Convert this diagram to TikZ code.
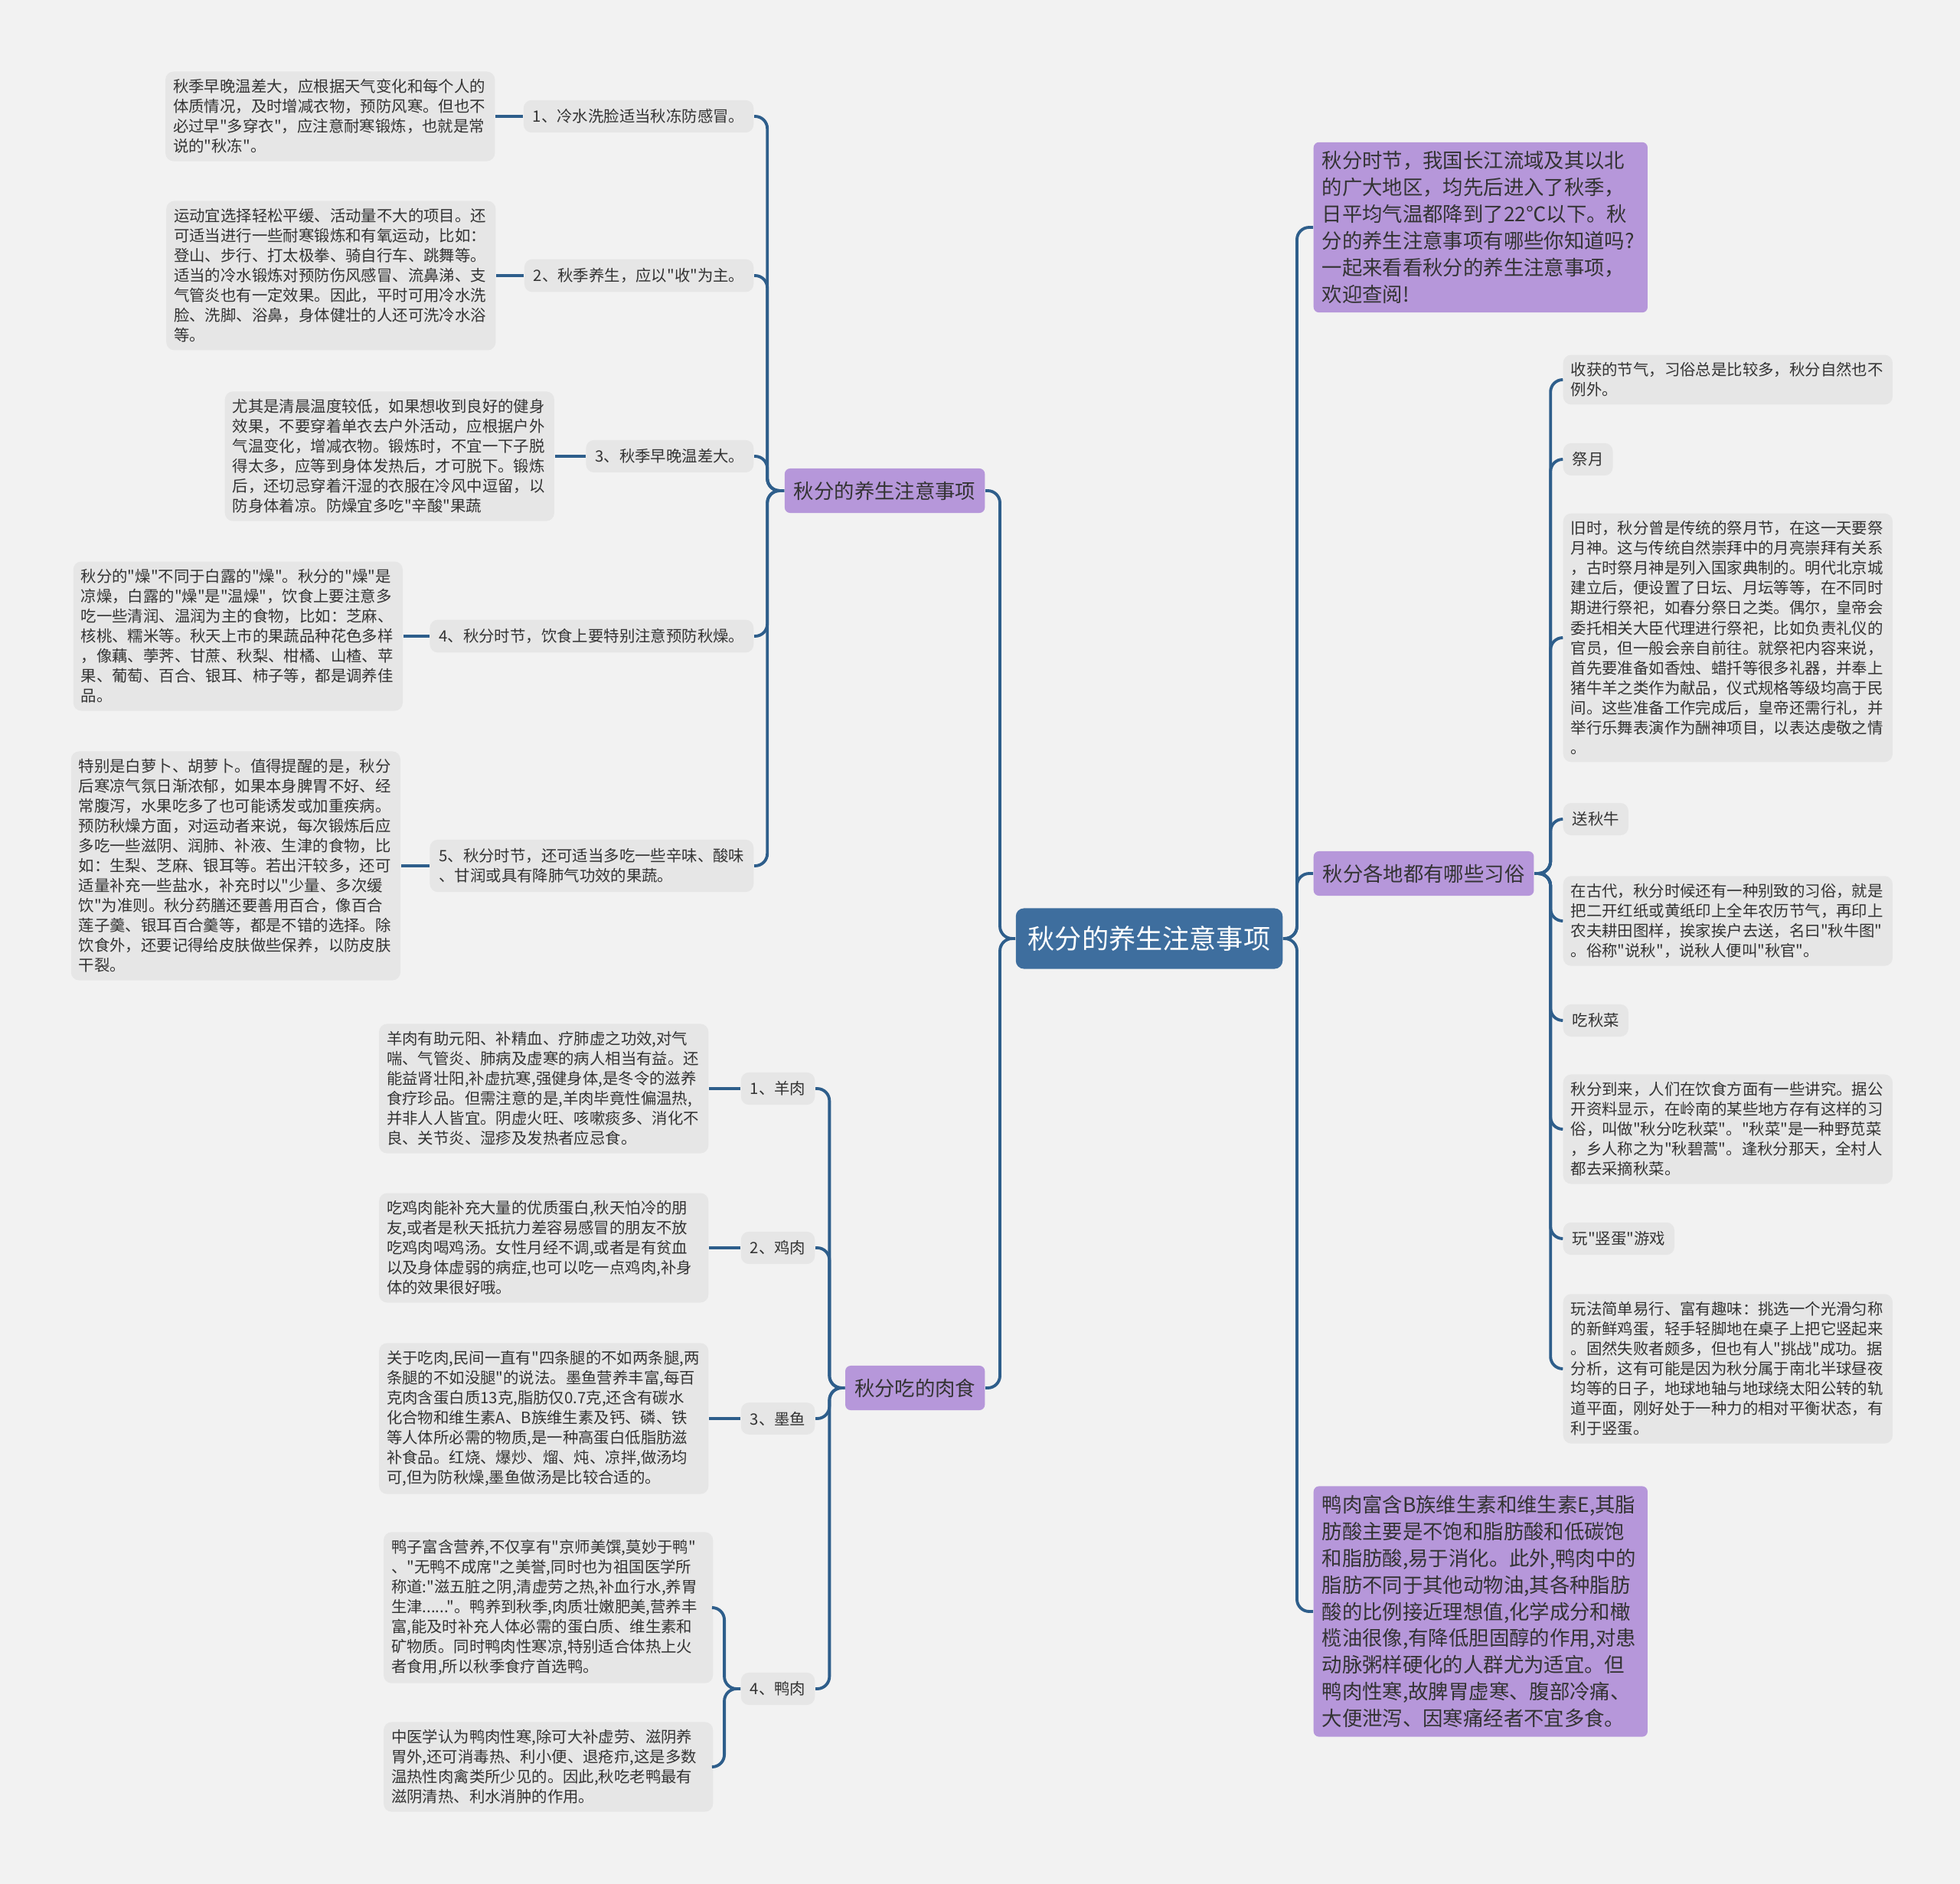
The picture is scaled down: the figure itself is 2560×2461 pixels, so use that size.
\documentclass[tikz,border=0pt]{standalone}
\usepackage{fontspec}
\setmainfont{Noto Sans CJK SC}[Ligatures=TeXOff]
\usetikzlibrary{positioning}
\definecolor{bgcol}{HTML}{F2F2F2}
\definecolor{notegray}{HTML}{E6E6E6}
\definecolor{topicpurple}{HTML}{B697DA}
\definecolor{rootblue}{HTML}{3E6E9E}
\definecolor{linkblue}{HTML}{2E5E8B}
\definecolor{ink}{HTML}{333333}
\begin{document}
\begin{tikzpicture}[x=0.01cm,y=-0.01cm,
  rootbox/.style={fill=rootblue,text=white,rounded corners=3pt,
    font=\fontsize{10}{12}\selectfont,inner xsep=0.16cm,minimum height=0.79cm},
  topicbox/.style={fill=topicpurple,text=ink,rounded corners=2pt,
    font=\fontsize{7.5}{9.9}\selectfont,inner xsep=0.12cm,minimum height=0.58cm},
  blurbbox/.style={topicbox,align=left,text width=4.14cm,inner xsep=0.11cm,inner ysep=0.12cm},
  notebox/.style={fill=notegray,text=ink,rounded corners=3pt,align=left,
    font=\fontsize{5.8}{7.4}\selectfont,text width=4.1cm,inner xsep=0.1cm,inner ysep=0.1cm},
  leafbox/.style={fill=notegray,text=ink,rounded corners=3pt,align=left,
    font=\fontsize{5.8}{7.4}\selectfont,inner xsep=0.12cm,minimum height=0.41cm},
  link/.style={draw=linkblue,line width=1.1pt,rounded corners=0.16cm}
]
\fill[bgcol] (0,0) rectangle (2560,2461);
\useasboundingbox (0,0) rectangle (2560,2461);

% centre and main branches
\node[rootbox] (root) at (1501,1226) {秋分的养生注意事项};
\node[topicbox,anchor=east] (care) at (1287,641) {秋分的养生注意事项};
\node[topicbox,anchor=east] (meat) at (1287,1813) {秋分吃的肉食};
\node[topicbox,anchor=west] (custom) at (1715,1141) {秋分各地都有哪些习俗};
\node[blurbbox,anchor=west] (intro) at (1715,297) {秋分时节，我国长江流域及其以北\\
  的广大地区，均先后进入了秋季，\\
  日平均气温都降到了22℃以下。秋\\
  分的养生注意事项有哪些你知道吗?\\
  一起来看看秋分的养生注意事项，\\
  欢迎查阅!};
\node[blurbbox,anchor=west] (duckfact) at (1715,2105) {鸭肉富含B族维生素和维生素E,其脂\\
  肪酸主要是不饱和脂肪酸和低碳饱\\
  和脂肪酸,易于消化。此外,鸭肉中的\\
  脂肪不同于其他动物油,其各种脂肪\\
  酸的比例接近理想值,化学成分和橄\\
  榄油很像,有降低胆固醇的作用,对患\\
  动脉粥样硬化的人群尤为适宜。但\\
  鸭肉性寒,故脾胃虚寒、腹部冷痛、\\
  大便泄泻、因寒痛经者不宜多食。};

% left: care items
\node[leafbox,anchor=east] (c1) at (985,152) {1、冷水洗脸适当秋冻防感冒。};
\node[leafbox,anchor=east] (c2) at (985,360) {2、秋季养生，应以"收"为主。};
\node[leafbox,anchor=east] (c3) at (985,596) {3、秋季早晚温差大。};
\node[leafbox,anchor=east] (c4) at (985,831) {4、秋分时节，饮食上要特别注意预防秋燥。};
\node[leafbox,anchor=east] (c5) at (985,1131) {5、秋分时节，还可适当多吃一些辛味、酸味\\
  、甘润或具有降肺气功效的果蔬。};
\node[notebox,left=0.36cm of c1] (d1) {秋季早晚温差大，应根据天气变化和每个人的\\
  体质情况，及时增减衣物，预防风寒。但也不\\
  必过早"多穿衣"，应注意耐寒锻炼，也就是常\\
  说的"秋冻"。};
\node[notebox,left=0.36cm of c2] (d2) {运动宜选择轻松平缓、活动量不大的项目。还\\
  可适当进行一些耐寒锻炼和有氧运动，比如：\\
  登山、步行、打太极拳、骑自行车、跳舞等。\\
  适当的冷水锻炼对预防伤风感冒、流鼻涕、支\\
  气管炎也有一定效果。因此，平时可用冷水洗\\
  脸、洗脚、浴鼻，身体健壮的人还可洗冷水浴\\
  等。};
\node[notebox,left=0.4cm of c3] (d3) {尤其是清晨温度较低，如果想收到良好的健身\\
  效果，不要穿着单衣去户外活动，应根据户外\\
  气温变化，增减衣物。锻炼时，不宜一下子脱\\
  得太多，应等到身体发热后，才可脱下。锻炼\\
  后，还切忌穿着汗湿的衣服在冷风中逗留，以\\
  防身体着凉。防燥宜多吃"辛酸"果蔬};
\node[notebox,left=0.34cm of c4] (d4) {秋分的"燥"不同于白露的"燥"。秋分的"燥"是\\
  凉燥，白露的"燥"是"温燥"，饮食上要注意多\\
  吃一些清润、温润为主的食物，比如：芝麻、\\
  核桃、糯米等。秋天上市的果蔬品种花色多样\\
  ，像藕、荸荠、甘蔗、秋梨、柑橘、山楂、苹\\
  果、葡萄、百合、银耳、柿子等，都是调养佳\\
  品。};
\node[notebox,left=0.37cm of c5] (d5) {特别是白萝卜、胡萝卜。值得提醒的是，秋分\\
  后寒凉气氛日渐浓郁，如果本身脾胃不好、经\\
  常腹泻，水果吃多了也可能诱发或加重疾病。\\
  预防秋燥方面，对运动者来说，每次锻炼后应\\
  多吃一些滋阴、润肺、补液、生津的食物，比\\
  如：生梨、芝麻、银耳等。若出汗较多，还可\\
  适量补充一些盐水，补充时以"少量、多次缓\\
  饮"为准则。秋分药膳还要善用百合，像百合\\
  莲子羹、银耳百合羹等，都是不错的选择。除\\
  饮食外，还要记得给皮肤做些保养，以防皮肤\\
  干裂。};

% left: meat items
\node[leafbox,anchor=east] (m1) at (1065,1422) {1、羊肉};
\node[leafbox,anchor=east] (m2) at (1065,1630) {2、鸡肉};
\node[leafbox,anchor=east] (m3) at (1065,1853) {3、墨鱼};
\node[leafbox,anchor=east] (m4) at (1065,2206) {4、鸭肉};
\node[notebox,left=0.41cm of m1] (lamb) {羊肉有助元阳、补精血、疗肺虚之功效,对气\\
  喘、气管炎、肺病及虚寒的病人相当有益。还\\
  能益肾壮阳,补虚抗寒,强健身体,是冬令的滋养\\
  食疗珍品。但需注意的是,羊肉毕竟性偏温热,\\
  并非人人皆宜。阴虚火旺、咳嗽痰多、消化不\\
  良、关节炎、湿疹及发热者应忌食。};
\node[notebox,left=0.41cm of m2] (chicken) {吃鸡肉能补充大量的优质蛋白,秋天怕冷的朋\\
  友,或者是秋天抵抗力差容易感冒的朋友不放\\
  吃鸡肉喝鸡汤。女性月经不调,或者是有贫血\\
  以及身体虚弱的病症,也可以吃一点鸡肉,补身\\
  体的效果很好哦。};
\node[notebox,left=0.41cm of m3] (squid) {关于吃肉,民间一直有"四条腿的不如两条腿,两\\
  条腿的不如没腿"的说法。墨鱼营养丰富,每百\\
  克肉含蛋白质13克,脂肪仅0.7克,还含有碳水\\
  化合物和维生素A、B族维生素及钙、磷、铁\\
  等人体所必需的物质,是一种高蛋白低脂肪滋\\
  补食品。红烧、爆炒、熘、炖、凉拌,做汤均\\
  可,但为防秋燥,墨鱼做汤是比较合适的。};
\node[notebox,anchor=east] (duck1) at (932,2100) {鸭子富含营养,不仅享有"京师美馔,莫妙于鸭"\\
  、"无鸭不成席"之美誉,同时也为祖国医学所\\
  称道:"滋五脏之阴,清虚劳之热,补血行水,养胃\\
  生津......"。鸭养到秋季,肉质壮嫩肥美,营养丰\\
  富,能及时补充人体必需的蛋白质、维生素和\\
  矿物质。同时鸭肉性寒凉,特别适合体热上火\\
  者食用,所以秋季食疗首选鸭。};
\node[notebox,anchor=east] (duck2) at (932,2308) {中医学认为鸭肉性寒,除可大补虚劳、滋阴养\\
  胃外,还可消毒热、利小便、退疮疖,这是多数\\
  温热性肉禽类所少见的。因此,秋吃老鸭最有\\
  滋阴清热、利水消肿的作用。};

% right: customs
\node[notebox,anchor=west] (k1) at (2041,496) {收获的节气，习俗总是比较多，秋分自然也不\\
  例外。};
\node[leafbox,anchor=west] (k2) at (2041,600) {祭月};
\node[notebox,anchor=west] (k3) at (2041,833) {旧时，秋分曾是传统的祭月节，在这一天要祭\\
  月神。这与传统自然崇拜中的月亮崇拜有关系\\
  ，古时祭月神是列入国家典制的。明代北京城\\
  建立后，便设置了日坛、月坛等等，在不同时\\
  期进行祭祀，如春分祭日之类。偶尔，皇帝会\\
  委托相关大臣代理进行祭祀，比如负责礼仪的\\
  官员，但一般会亲自前往。就祭祀内容来说，\\
  首先要准备如香烛、蜡扦等很多礼器，并奉上\\
  猪牛羊之类作为献品，仪式规格等级均高于民\\
  间。这些准备工作完成后，皇帝还需行礼，并\\
  举行乐舞表演作为酬神项目，以表达虔敬之情\\
  。};
\node[leafbox,anchor=west] (k4) at (2041,1070) {送秋牛};
\node[notebox,anchor=west] (k5) at (2041,1203) {在古代，秋分时候还有一种别致的习俗，就是\\
  把二开红纸或黄纸印上全年农历节气，再印上\\
  农夫耕田图样，挨家挨户去送，名曰"秋牛图"\\
  。俗称"说秋"，说秋人便叫"秋官"。};
\node[leafbox,anchor=west] (k6) at (2041,1333) {吃秋菜};
\node[notebox,anchor=west] (k7) at (2041,1475) {秋分到来，人们在饮食方面有一些讲究。据公\\
  开资料显示，在岭南的某些地方存有这样的习\\
  俗，叫做"秋分吃秋菜"。"秋菜"是一种野苋菜\\
  ，乡人称之为"秋碧蒿"。逢秋分那天，全村人\\
  都去采摘秋菜。};
\node[leafbox,anchor=west] (k8) at (2041,1618) {玩"竖蛋"游戏};
\node[notebox,anchor=west] (k9) at (2041,1788) {玩法简单易行、富有趣味：挑选一个光滑匀称\\
  的新鲜鸡蛋，轻手轻脚地在桌子上把它竖起来\\
  。固然失败者颇多，但也有人"挑战"成功。据\\
  分析，这有可能是因为秋分属于南北半球昼夜\\
  均等的日子，地球地轴与地球绕太阳公转的轨\\
  道平面，刚好处于一种力的相对平衡状态，有\\
  利于竖蛋。};

% connectors
\draw[link] (root.west) -- ++(-20,0) |- (care.east);
\draw[link] (root.west) -- ++(-20,0) |- (meat.east);
\draw[link] (root.east) -- ++(18,0) |- (intro.west);
\draw[link] (root.east) -- ++(18,0) |- (custom.west);
\draw[link] (root.east) -- ++(18,0) |- (duckfact.west);
\draw[link] (care.west) -- ++(-22,0) |- (c1.east);
\draw[link] (care.west) -- ++(-22,0) |- (c2.east);
\draw[link] (care.west) -- ++(-22,0) |- (c3.east);
\draw[link] (care.west) -- ++(-22,0) |- (c4.east);
\draw[link] (care.west) -- ++(-22,0) |- (c5.east);
\draw[link] (c1.west) -- (d1.east);
\draw[link] (c2.west) -- (d2.east);
\draw[link] (c3.west) -- (d3.east);
\draw[link] (c4.west) -- (d4.east);
\draw[link] (c5.west) -- (d5.east);
\draw[link] (meat.west) -- ++(-20,0) |- (m1.east);
\draw[link] (meat.west) -- ++(-20,0) |- (m2.east);
\draw[link] (meat.west) -- ++(-20,0) |- (m3.east);
\draw[link] (meat.west) -- ++(-20,0) |- (m4.east);
\draw[link] (m1.west) -- (lamb.east);
\draw[link] (m2.west) -- (chicken.east);
\draw[link] (m3.west) -- (squid.east);
\draw[link] (m4.west) -- ++(-21,0) |- (duck1.east);
\draw[link] (m4.west) -- ++(-21,0) |- (duck2.east);
\draw[link] (custom.east) -- ++(21,0) |- (k1.west);
\draw[link] (custom.east) -- ++(21,0) |- (k2.west);
\draw[link] (custom.east) -- ++(21,0) |- (k3.west);
\draw[link] (custom.east) -- ++(21,0) |- (k4.west);
\draw[link] (custom.east) -- ++(21,0) |- (k5.west);
\draw[link] (custom.east) -- ++(21,0) |- (k6.west);
\draw[link] (custom.east) -- ++(21,0) |- (k7.west);
\draw[link] (custom.east) -- ++(21,0) |- (k8.west);
\draw[link] (custom.east) -- ++(21,0) |- (k9.west);
\end{tikzpicture}
\end{document}
